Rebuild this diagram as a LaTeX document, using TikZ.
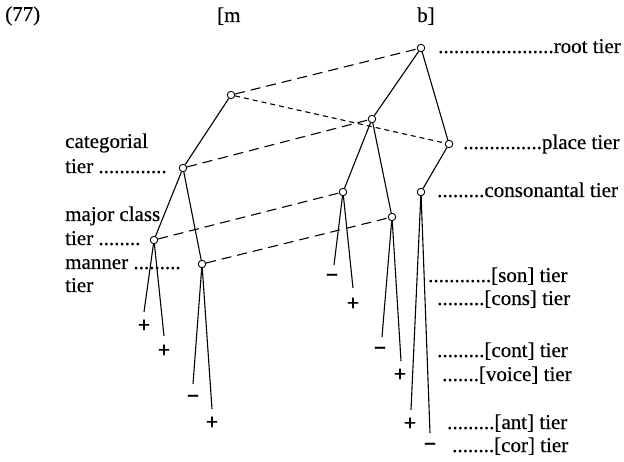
\documentclass[tikz,border=0pt]{standalone}
\usepackage{fontspec}
\setmainfont{Liberation Serif}[FakeBold=0.4]
\begin{document}
\begin{tikzpicture}[x=1pt,y=-1pt,
  every node/.style={font=\fontsize{21}{25}\selectfont},
  tnode/.style={circle,draw,fill=white,minimum size=7.5pt,inner sep=0pt,line width=0.9pt},
  sign/.style={inner sep=0pt,font=\fontsize{22}{25}\selectfont\bfseries},
  lbl/.style={anchor=base west,inner sep=0pt},
  branch/.style={line width=1.1pt},
  longdash/.style={line width=1.1pt,dash pattern=on 10pt off 6pt},
  shortdash/.style={line width=1.1pt,dash pattern=on 5pt off 4pt}]
\useasboundingbox (0,0) rectangle (624,462);

% header
\node[lbl] (t77) at (5,21) {(77)};
\node[lbl] (tm) at (217,22) {[m};
\node[lbl] (tb) at (417,22) {b]};

% tree nodes
\node[tnode] (root) at (421,48) {};
\node[tnode] (mroot) at (231,95) {};
\node[tnode] (place) at (449,144) {};
\node[tnode] (bcat) at (372,119) {};
\node[tnode] (mcat) at (183,168) {};
\node[tnode] (mmaj) at (154,240) {};
\node[tnode] (mman) at (202,264) {};
\node[tnode] (bmaj) at (343,192) {};
\node[tnode] (bman) at (392,217) {};
\node[tnode] (cons) at (421,192) {};

% free ends of feature lines
\coordinate (e1) at (144,312);
\coordinate (e2) at (164,336);
\coordinate (e3) at (193,384);
\coordinate (e4) at (212,409);
\coordinate (e5) at (334,265);
\coordinate (e6) at (353,288);
\coordinate (e7) at (382,337);
\coordinate (e8) at (401,361);
\coordinate (e9) at (411,410);
\coordinate (e10) at (430,433);

% signs
\node[sign] (s1) at (144,326) {+};
\node[sign] (s2) at (164,351) {+};
\node[sign] (s3) at (193,399) {−};
\node[sign] (s4) at (212,423) {+};
\node[sign] (s5) at (332,278) {−};
\node[sign] (s6) at (353,304) {+};
\node[sign] (s7) at (380,351) {−};
\node[sign] (s8) at (400,375) {+};
\node[sign] (s9) at (410,424) {+};
\node[sign] (s10) at (430,447) {−};

% association lines (dashed)
\draw[longdash] (mroot) -- (root);
\draw[shortdash] (mroot) -- (place);
\draw[longdash] (mcat) -- (bcat);
\draw[longdash] (mmaj) -- (bmaj);
\draw[longdash] (mman) -- (bman);

% tree branches
\draw[branch] (root) -- (bcat);
\draw[branch] (root) -- (place);
\draw[branch] (place) -- (cons);
\draw[branch] (bcat) -- (bmaj);
\draw[branch] (bcat) -- (bman);
\draw[branch] (mroot) -- (mcat);
\draw[branch] (mcat) -- (mmaj);
\draw[branch] (mcat) -- (mman);
\draw[branch] (mmaj) -- (e1);
\draw[branch] (mmaj) -- (e2);
\draw[branch] (mman) -- (e3);
\draw[branch] (mman) -- (e4);
\draw[branch] (bmaj) -- (e5);
\draw[branch] (bmaj) -- (e6);
\draw[branch] (bman) -- (e7);
\draw[branch] (bman) -- (e8);
\draw[branch] (cons) -- (e9);
\draw[branch] (cons) -- (e10);

% right labels
\node[lbl] (lroot) at (438,53) {......................root tier};
\node[lbl] (lplace) at (463,149) {...............place tier};
\node[lbl] (lcons) at (437,197) {.........consonantal tier};
\node[lbl] (lson) at (428,282) {............[son] tier};
\node[lbl] (lcns) at (437,305) {.........[cons] tier};
\node[lbl] (lcont) at (437,357) {.........[cont] tier};
\node[lbl] (lvoice) at (442,381) {.......[voice] tier};
\node[lbl] (lant) at (447,429) {.........[ant] tier};
\node[lbl] (lcor) at (452,452) {........[cor] tier};

% left labels
\node[lbl] (lcat1) at (65,148) {categorial};
\node[lbl] (lcat2) at (65,173) {tier .............};
\node[lbl] (lmaj1) at (65,221) {major class};
\node[lbl] (lmaj2) at (65,245) {tier ........};
\node[lbl] (lman1) at (65,269) {manner .........};
\node[lbl] (lman2) at (65,292) {tier};
\end{tikzpicture}
\end{document}
